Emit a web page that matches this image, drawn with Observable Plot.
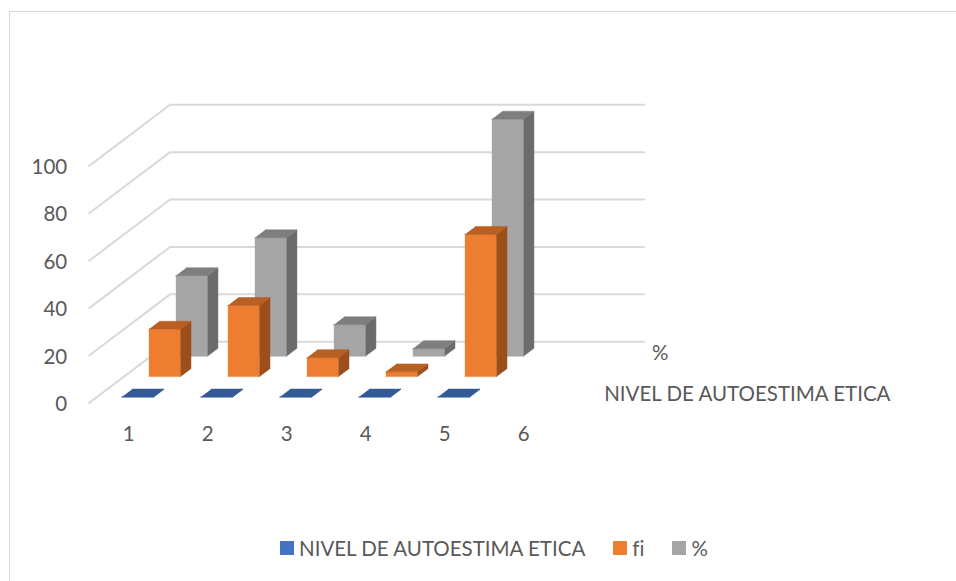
<!DOCTYPE html>
<html>
<head>
<meta charset="utf-8">
<script src="https://cdn.jsdelivr.net/npm/d3@7"></script>
<script src="https://cdn.jsdelivr.net/npm/@observablehq/plot@0.6"></script>
<style>
  html, body { margin: 0; padding: 0; background: #fff; overflow: hidden; }
  #wrap { position: relative; width: 956px; height: 581px; font-family: Lato, sans-serif; color: #595959; font-variant-ligatures: none; }
  #frame { position: absolute; left: 9px; top: 11px; right: -4px; bottom: -4px; border: 1.5px solid #d9d9d9; pointer-events: none; }
  #chart svg { display: block; font-variant-ligatures: none; }
  #legend { position: absolute; left: 280px; top: 534px; height: 28px; display: flex; align-items: center; font-size: 20.5px; white-space: nowrap; }
  #legend .sw { width: 14px; height: 14px; margin-right: 5px; flex: none; }
  #legend .it { display: flex; align-items: center; margin-right: 28px; }
</style>
</head>
<body>
<div id="wrap">
  <div id="frame"></div>
  <div id="chart"></div>
  <div id="legend"></div>
</div>
<script>
const categories = ["1", "2", "3", "4", "5", "6"];
const seriesNames = ["NIVEL DE AUTOESTIMA ETICA", "fi", "%"];
const nivel = [0, 0, 0, 0, 0, null];
const fi = [20, 30, 8, 2, 60, null];
const pct = [34, 50, 13.3, 3.2, 100, null];
const yTicks = [0, 20, 40, 60, 80, 100];
const seriesValues = [nivel, fi, pct];

const frontColors = ["#4472c4", "#ed7d31", "#a5a5a5"];
const sideColors  = ["#2c4a80", "#9c4e1b", "#6b6b6b"];
const topColors   = ["#335a96", "#b85f22", "#7e7e7e"];

// Oblique projection: one depth unit (one series row) shifts a point along x (in category
// units) and along y (in value units).
const depthToCat = 0.3413, depthToVal = 8.6, depthMax = 3;
const barLeft = 0.315, barWidth = 0.4, rowFront = 0.29, rowDepth = 0.39;
const project = (c, v, d) => ({px: c + d * depthToCat, py: v + d * depthToVal});

// Floor and walls
const grid = yTicks.flatMap(v => [
  {id: v, ...project(0, v, 0)},
  {id: v, ...project(0, v, depthMax)},
  {id: v, ...project(categories.length, v, depthMax)}
]);

// Bars, painted from the back row to the front row
const faces = [];
for (let s = seriesValues.length - 1; s >= 0; s--) {
  seriesValues[s].forEach((v, i) => {
    if (v == null) return;
    const c0 = i + barLeft, c1 = c0 + barWidth, d0 = s + rowFront, d1 = d0 + rowDepth;
    const add = (name, color, pts) => pts.forEach(p => faces.push({id: `${s}-${i}-${name}`, color, ...project(...p)}));
    add("front", frontColors[s], [[c0, 0, d0], [c1, 0, d0], [c1, v, d0], [c0, v, d0]]);
    add("side", sideColors[s], [[c1, 0, d0], [c1, 0, d1], [c1, v, d1], [c1, v, d0]]);
    add("top", topColors[s], [[c0, v, d0], [c1, v, d0], [c1, v, d1], [c0, v, d1]]);
  });
}

const yLabels = yTicks.map(v => ({label: String(v), ...project(0, v, 0)}));
const xLabels = categories.map((label, i) => ({label, ...project(i + 0.5, 0, 0)}));
const nivelLabel = [{label: seriesNames[0], ...project(categories.length, 0, 0.5)}];
const pctLabel = [{label: seriesNames[2], ...project(categories.length, 0, 2.5)}];

const W = 956, H = 530;
const fs = 20.5;
const floorY = 402.4;
const chart = Plot.plot({
  width: W, height: H,
  margin: 0,
  style: {background: "transparent", fontFamily: "Lato, sans-serif"},
  x: {domain: [-88.7 / 79, (W - 88.7) / 79], range: [0, W], axis: null},
  y: {domain: [(floorY - H) / 2.37, floorY / 2.37], range: [H, 0], axis: null},
  color: {type: "identity"},
  marks: [
    Plot.line(grid, {x: "px", y: "py", z: "id", stroke: "#d9d9d9", strokeWidth: 2, curve: "linear"}),
    Plot.line(faces, {x: "px", y: "py", z: "id", fill: "color", stroke: "color", strokeWidth: 0.5, curve: "linear"}),
    Plot.text(yLabels, {x: "px", y: "py", text: "label", textAnchor: "end", dx: -22, dy: 1.5, fontSize: fs, fill: "#595959"}),
    Plot.text(xLabels, {x: "px", y: "py", text: "label", dy: 31.5, fontSize: fs, fill: "#595959"}),
    Plot.text(nivelLabel, {x: "px", y: "py", text: "label", textAnchor: "start", dx: 27.5, dy: 1.5, fontSize: fs, fill: "#595959"}),
    Plot.text(pctLabel, {x: "px", y: "py", text: "label", textAnchor: "start", dx: 21.5, dy: 1.5, fontSize: fs, fill: "#595959"})
  ]
});
document.getElementById("chart").append(chart);

const legend = document.getElementById("legend");
seriesNames.forEach((name, i) => {
  const it = document.createElement("div"); it.className = "it";
  const sw = document.createElement("span"); sw.className = "sw"; sw.style.background = frontColors[i];
  const tx = document.createElement("span"); tx.textContent = name;
  it.append(sw, tx); legend.append(it);
});
</script>
</body>
</html>
